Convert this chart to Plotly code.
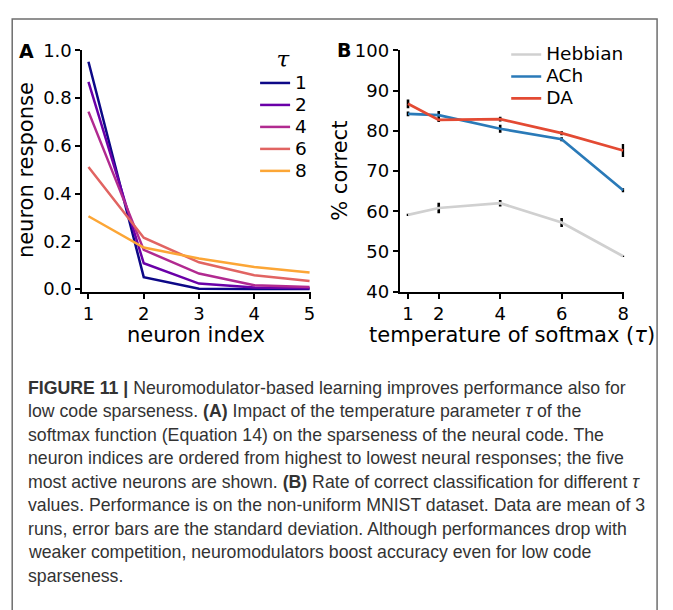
import plotly.graph_objects as go

W, H = 673, 610

# ---------------- data ----------------
neuron_index = [1, 2, 3, 4, 5]
tau_labels = ["1", "2", "4", "6", "8"]
resp_tau1 = [0.952, 0.050, 0.001, 0.000, 0.000]
resp_tau2 = [0.868, 0.108, 0.023, 0.007, 0.003]
resp_tau4 = [0.743, 0.164, 0.065, 0.016, 0.009]
resp_tau6 = [0.511, 0.215, 0.112, 0.058, 0.034]
resp_tau8 = [0.305, 0.174, 0.128, 0.092, 0.069]
tau_colors = ["#0d0887", "#6a00a8", "#b12a90", "#e16462", "#fca636"]

temperature = [1, 2, 4, 6, 8]
hebbian = [59.1, 60.8, 62.0, 57.2, 48.8]
hebbian_sd = [0.3, 1.3, 0.8, 1.1, 0.2]
ach = [84.2, 83.9, 80.5, 77.9, 65.2]
ach_sd = [0.6, 1.0, 1.0, 0.5, 0.5]
da = [86.7, 82.7, 82.9, 79.4, 75.1]
da_sd = [1.1, 0.5, 0.6, 0.5, 1.6]
b_names = ["Hebbian", "ACh", "DA"]
b_colors = ["#d0d0d0", "#2a7ab8", "#e34a33"]

caption_lines = [
    "<b>FIGURE 11 |</b> Neuromodulator-based learning improves performance also for",
    "low code sparseness. <b>(A)</b> Impact of the temperature parameter <i>τ</i> of the",
    "softmax function (Equation 14) on the sparseness of the neural code. The",
    "neuron indices are ordered from highest to lowest neural responses; the five",
    "most active neurons are shown. <b>(B)</b> Rate of correct classification for different <i>τ</i>",
    "values. Performance is on the non-uniform MNIST dataset. Data are mean of 3",
    "runs, error bars are the standard deviation. Although performances drop with",
    "weaker competition, neuromodulators boost accuracy even for low code",
    "sparseness.",
]


def px(x):
    return x / W


def py(y):
    return 1 - y / H


def big(label):
    return '<span style="font-size:18.5px">' + label + "</span>"


fig = go.Figure()

# ---------------- panel A ----------------
for vals, lab, col in zip([resp_tau1, resp_tau2, resp_tau4, resp_tau6, resp_tau8], tau_labels, tau_colors):
    fig.add_trace(go.Scatter(x=neuron_index, y=vals, mode="lines", name=big(lab),
                             line=dict(color=col, width=2.5),
                             xaxis="x", yaxis="y", legend="legend"))

# ---------------- panel B ----------------
for vals, sd in zip([hebbian, ach, da], [hebbian_sd, ach_sd, da_sd]):
    fig.add_trace(go.Scatter(x=temperature, y=vals, mode="markers",
                             marker=dict(size=0.1, color="rgba(0,0,0,0)"),
                             error_y=dict(type="data", array=sd, visible=True,
                                          color="black", thickness=2.6, width=0),
                             showlegend=False, hoverinfo="skip",
                             xaxis="x2", yaxis="y2"))
for vals, name, col in zip([hebbian, ach, da], b_names, b_colors):
    fig.add_trace(go.Scatter(x=temperature, y=vals, mode="lines", name=big(name),
                             line=dict(color=col, width=2.7),
                             xaxis="x2", yaxis="y2", legend="legend2"))

tickfont = dict(family="DejaVu Sans", size=18, color="black")
axis_common = dict(showline=True, linecolor="black", linewidth=2, ticks="outside",
                   ticklen=5, tickwidth=2, tickcolor="black", showgrid=False,
                   zeroline=False, tickfont=tickfont)

legend_common = dict(xanchor="left", yanchor="top", bgcolor="rgba(0,0,0,0)",
                     font=dict(family="DejaVu Sans", size=14.6, color="black"),
                     itemwidth=30, tracegroupgap=0)

fig.update_layout(
    width=W, height=H, margin=dict(l=0, r=0, t=0, b=0),
    paper_bgcolor="white", plot_bgcolor="white",
    xaxis=dict(domain=[px(83), px(313)], range=[0.89, 5.02],
               tickvals=neuron_index, ticktext=[str(v) for v in neuron_index], **axis_common),
    yaxis=dict(domain=[py(290.7), py(40.7)], range=[-0.011, 1.0],
               tickvals=[0, 0.2, 0.4, 0.6, 0.8, 1.0], tickformat=".1f", **axis_common),
    xaxis2=dict(domain=[px(402.7), px(629)], range=[0.73, 8.04], anchor="y2",
                tickvals=temperature, **axis_common),
    yaxis2=dict(domain=[py(290.7), py(40.7)], range=[40, 100], anchor="x2",
                tickvals=[40, 50, 60, 70, 80, 90, 100], **axis_common),
    legend=dict(x=px(257), y=py(27),
                title=dict(text="<i>τ</i>", side="top center",
                           font=dict(family="DejaVu Serif", size=23, color="black")),
                **legend_common),
    legend2=dict(x=px(510), y=py(28.5), **legend_common),
)

annotations = [
    dict(text="<b>A</b>", x=px(27), y=py(41), xanchor="center", yanchor="middle",
         font=dict(family="DejaVu Sans", size=19, color="black")),
    dict(text="<b>B</b>", x=px(347), y=py(40), xanchor="center", yanchor="middle",
         font=dict(family="DejaVu Sans", size=19, color="black")),
    dict(text="neuron response", x=px(27), y=py(165), textangle=-90, xanchor="center",
         yanchor="middle", font=dict(family="DejaVu Sans", size=21, color="black")),
    dict(text="neuron index", x=px(197), y=py(335.5), xanchor="center", yanchor="middle",
         font=dict(family="DejaVu Sans", size=21, color="black")),
    dict(text="% correct", x=px(343), y=py(165), textangle=-90, xanchor="center",
         yanchor="middle", font=dict(family="DejaVu Sans", size=21, color="black")),
    dict(text="temperature of softmax (<i>τ</i>)", x=px(516), y=py(335.5), xanchor="center",
         yanchor="middle", font=dict(family="DejaVu Sans", size=21, color="black")),
]
for i, line in enumerate(caption_lines):
    annotations.append(dict(text=line, x=px(26), y=py(390 + i * 24.4), xanchor="left",
                            yanchor="middle", align="left",
                            font=dict(family="Liberation Sans", size=17.7, color="#333333")))
for a in annotations:
    a.update(xref="paper", yref="paper", showarrow=False)
fig.update_layout(annotations=annotations)

fig.add_shape(type="rect", xref="paper", yref="paper",
              x0=px(12.3), x1=px(662), y0=py(640), y1=py(8.3),
              line=dict(color="#6e6e6e", width=1.5), fillcolor="rgba(0,0,0,0)")

fig.write_html("out.html")
